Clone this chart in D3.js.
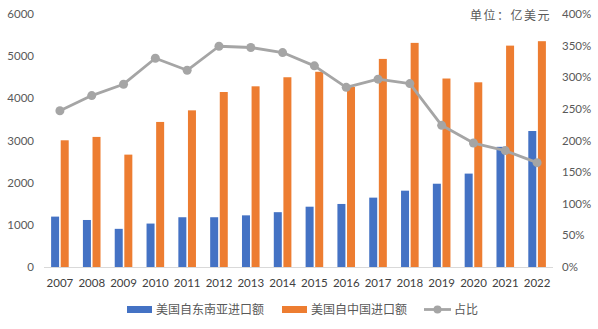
<!DOCTYPE html>
<html><head><meta charset="utf-8">
<script src="https://cdn.jsdelivr.net/npm/d3@7"></script>
<style>body{margin:0;background:#fff}svg{display:block}text{font-family:Lato,"Noto Sans CJK SC",sans-serif}</style>
</head><body>
<svg id="c" width="598" height="329"></svg>
<script>
const years = ["2007","2008","2009","2010","2011","2012","2013","2014","2015","2016","2017","2018","2019","2020","2021","2022"];
const aseanImports = [1195,1115,905,1030,1180,1180,1225,1300,1430,1495,1645,1810,1975,2215,2850,3225];
const chinaImports = [3005,3085,2665,3440,3715,4150,4285,4500,4630,4270,4935,5315,4470,4380,5250,5355];
const ratio = [2.47,2.71,2.89,3.30,3.11,3.49,3.47,3.39,3.18,2.84,2.97,2.90,2.24,1.96,1.84,1.65];
const leftTicks = [0,1000,2000,3000,4000,5000,6000];
const rightTicks = [0,0.5,1,1.5,2,2.5,3,3.5,4];
const seriesNames = ["美国自东南亚进口额","美国自中国进口额","占比"];
const unitLabel = "单位：亿美元";

const svg = d3.select("#c");
const colors = {asean:"#4472c4", china:"#ed7d31", ratio:"#a5a5a5"};
const x = d3.scaleBand().domain(years).range([44,553]);
const yL = d3.scaleLinear().domain([0,6000]).range([267,14]);
const yR = d3.scaleLinear().domain([0,4]).range([267,14]);
const bw = 8;

// left axis labels
svg.append("g").selectAll("text").data(leftTicks).join("text")
  .attr("x",34).attr("y",d=>yL(d)+4).attr("text-anchor","end")
  .attr("font-size",11.5).attr("fill","#595959").text(d=>d);
svg.append("g").selectAll("text").data(rightTicks).join("text")
  .attr("x",562).attr("y",d=>yR(d)+4).attr("text-anchor","start")
  .attr("font-size",11.5).attr("fill","#595959").text(d=>d3.format(".0%")(d));

// bars
svg.append("g").selectAll("rect").data(years).join("rect")
  .attr("x",d=>x(d)+x.bandwidth()/2-bw-0.8).attr("width",bw)
  .attr("y",(d,i)=>yL(aseanImports[i])).attr("height",(d,i)=>yL(0)-yL(aseanImports[i]))
  .attr("fill",colors.asean);
svg.append("g").selectAll("rect").data(years).join("rect")
  .attr("x",d=>x(d)+x.bandwidth()/2+0.8).attr("width",bw)
  .attr("y",(d,i)=>yL(chinaImports[i])).attr("height",(d,i)=>yL(0)-yL(chinaImports[i]))
  .attr("fill",colors.china);

// baseline
svg.append("line").attr("x1",44).attr("x2",553).attr("y1",yL(0)+0.5).attr("y2",yL(0)+0.5)
  .attr("stroke","#d9d9d9").attr("stroke-width",1);

// x labels
svg.append("g").selectAll("text").data(years).join("text")
  .attr("x",d=>x(d)+x.bandwidth()/2).attr("y",287).attr("text-anchor","middle")
  .attr("font-size",11.5).attr("fill","#404040").text(d=>d);

// line
const line = d3.line().x((d,i)=>x(years[i])+x.bandwidth()/2).y(d=>yR(d));
svg.append("path").datum(ratio).attr("d",line).attr("fill","none")
  .attr("stroke",colors.ratio).attr("stroke-width",2.8).attr("stroke-linejoin","round");
svg.append("g").selectAll("circle").data(ratio).join("circle")
  .attr("cx",(d,i)=>x(years[i])+x.bandwidth()/2).attr("cy",d=>yR(d)).attr("r",4.5)
  .attr("fill",colors.ratio);

// unit
svg.append("text").attr("x",551).attr("y",20).attr("text-anchor","end")
  .attr("font-size",12).attr("fill","#595959").attr("letter-spacing",1.5).text(unitLabel);

// legend
const lg = svg.append("g").attr("font-size",12).attr("fill","#595959");
lg.append("rect").attr("x",127).attr("y",306).attr("width",25).attr("height",7).attr("fill",colors.asean);
lg.append("text").attr("x",156).attr("y",314).attr("fill","#595959").text(seriesNames[0]);
lg.append("rect").attr("x",282).attr("y",306).attr("width",25).attr("height",7).attr("fill",colors.china);
lg.append("text").attr("x",311).attr("y",314).attr("fill","#595959").text(seriesNames[1]);
lg.append("line").attr("x1",424).attr("x2",451).attr("y1",309.5).attr("y2",309.5).attr("stroke",colors.ratio).attr("stroke-width",2.8);
lg.append("circle").attr("cx",437.5).attr("cy",309.5).attr("r",4).attr("fill",colors.ratio);
lg.append("text").attr("x",454).attr("y",314).attr("fill","#595959").text(seriesNames[2]);
</script>
</body></html>
